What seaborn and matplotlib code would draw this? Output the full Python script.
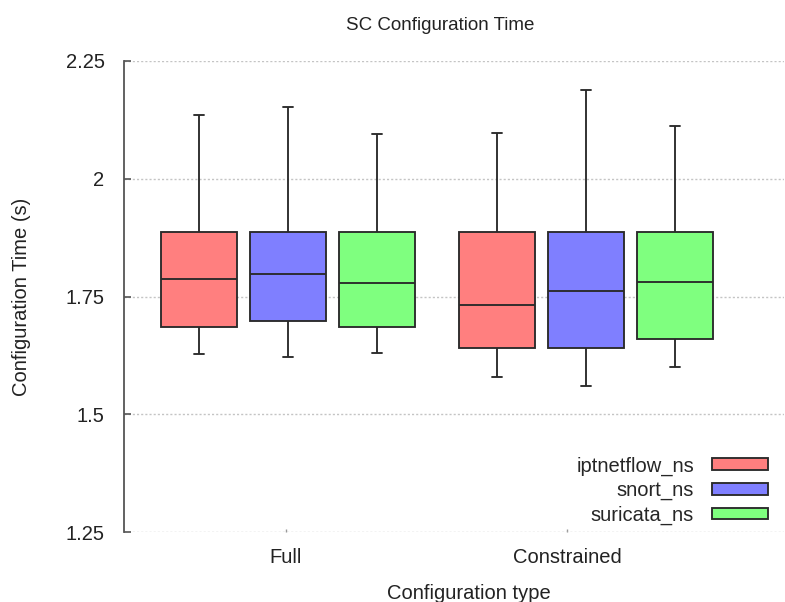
import numpy as np
import pandas as pd
import matplotlib
matplotlib.use("Agg")
import matplotlib.pyplot as plt
import seaborn as sns

# ---- data (five-number summaries) ----
categories = ["Full", "Constrained"]
series = ["iptnetflow_ns", "snort_ns", "suricata_ns"]
colors = ["#ff7f7f", "#7f7fff", "#7fff7f"]

# per series: [lower whisker, Q1, median, Q3, upper whisker] for Full, Constrained
iptnetflow_full = [1.627, 1.685, 1.787, 1.886, 2.135]
iptnetflow_constrained = [1.580, 1.641, 1.732, 1.886, 2.097]
snort_full = [1.622, 1.699, 1.798, 1.886, 2.153]
snort_constrained = [1.561, 1.641, 1.762, 1.886, 2.188]
suricata_full = [1.629, 1.685, 1.779, 1.886, 2.094]
suricata_constrained = [1.600, 1.660, 1.781, 1.886, 2.113]

yticks = [1.25, 1.5, 1.75, 2.0, 2.25]
ytick_labels = ["1.25", "1.5", "1.75", "2", "2.25"]

summaries = {
    ("Full", "iptnetflow_ns"): iptnetflow_full,
    ("Constrained", "iptnetflow_ns"): iptnetflow_constrained,
    ("Full", "snort_ns"): snort_full,
    ("Constrained", "snort_ns"): snort_constrained,
    ("Full", "suricata_ns"): suricata_full,
    ("Constrained", "suricata_ns"): suricata_constrained,
}
rows = []
for (cat, ser), vals in summaries.items():
    for v in vals:
        rows.append({"Configuration type": cat, "series": ser, "time": v})
df = pd.DataFrame(rows)

sns.set_theme(style="white")
plt.rcParams["font.family"] = ["Liberation Sans", "DejaVu Sans"]

fig = plt.figure(figsize=(7.85, 6.02), dpi=100)
ax = fig.add_axes([124 / 785, 1 - 532 / 602, 660 / 785, 471 / 602])

edge = "#2a2a2a"
sns.boxplot(
    data=df, x="Configuration type", y="time", hue="series",
    order=categories, hue_order=series, palette=colors, saturation=1,
    width=0.896, gap=0.15, whis=(0, 100), linecolor=edge, linewidth=1.35,
    showfliers=False, ax=ax, capwidths=0.035,
)

ax.set_ylim(1.25, 2.25)
ax.set_xlim(-0.55, 1.664)
ax.set_yticks(yticks)
ax.set_yticklabels(ytick_labels)
# x tick labels sit where the original chart put them
ax.set_xticks([-0.008, 0.937])
ax.set_xticklabels(categories)
ax.set_axisbelow(True)
ax.yaxis.grid(True, color="#c4c4c4", linestyle=(0, (1.5, 1.5)), linewidth=1.0)
ax.xaxis.grid(False)
for s in ["top", "right", "bottom"]:
    ax.spines[s].set_visible(False)
ax.spines["left"].set_color("#555555")
ax.spines["left"].set_linewidth(1.3)

ax.tick_params(axis="y", direction="in", length=5, width=1.2, color="#555555",
               pad=14, labelsize=14.5, labelcolor="#222222", left=True)
ax.tick_params(axis="x", direction="in", length=2, width=1, color="#999999",
               pad=11.5, labelsize=14.5, labelcolor="#222222", bottom=True)

ax.set_ylabel("Configuration Time (s)", fontsize=14.5, color="#222222")
ax.yaxis.set_label_coords(-0.141, 0.5)
ax.set_xlabel("Configuration type", fontsize=14.5, color="#222222")
ax.xaxis.set_label_coords(0.523, -0.110)

fig.text(440 / 785, 1 - 30 / 602, "SC Configuration Time", ha="center",
         va="baseline", fontsize=13.5, color="#222222")

leg = ax.get_legend()
handles = leg.legend_handles
labels = [t.get_text() for t in leg.get_texts()]
leg.remove()
ax.legend(handles, labels, loc="lower right",
          bbox_to_anchor=(768 / 785, 1 - 525 / 602), bbox_transform=fig.transFigure,
          frameon=False, markerfirst=False, fontsize=14.5, handlelength=2.8,
          handleheight=0.5, handletextpad=0.88, labelspacing=0.27,
          borderpad=0, borderaxespad=0)

fig.savefig("out.png", dpi=100)
